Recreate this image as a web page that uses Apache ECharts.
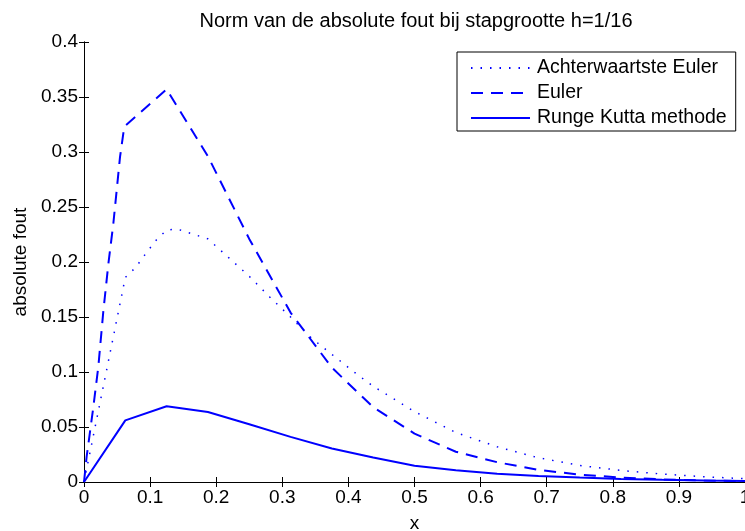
<!DOCTYPE html>
<html>
<head>
<meta charset="utf-8">
<script src="https://cdn.jsdelivr.net/npm/echarts@6/dist/echarts.min.js"></script>
<style>
  html, body { margin: 0; padding: 0; background: #fff; }
  #chart { width: 745px; height: 531px; }
</style>
</head>
<body>
<div id="chart"></div>
<script>
// x positions (stap h = 1/16, met extra punten waar de curve gebogen is)
const xBackward = [0, 0.0625, 0.0781, 0.0938, 0.1094, 0.125, 0.1406, 0.1563, 0.1719, 0.1875,
  0.2188, 0.25, 0.2813, 0.3125, 0.3438, 0.375, 0.4063, 0.4375, 0.5, 0.5625, 0.625,
  0.6875, 0.75, 0.8125, 0.875, 0.9375, 1];
const yBackward = [0, 0.186, 0.195, 0.208, 0.220, 0.229, 0.230, 0.227, 0.224, 0.221,
  0.204, 0.187, 0.168, 0.150, 0.131, 0.116, 0.101, 0.087, 0.064, 0.045, 0.032,
  0.022, 0.015, 0.0105, 0.0072, 0.0048, 0.003];

const xEuler = [0, 0.004, 0.0141, 0.0217, 0.0292, 0.0368, 0.0444, 0.0545, 0.0595, 0.0625,
  0.125, 0.1875, 0.25, 0.3125, 0.375, 0.4375, 0.5, 0.5625, 0.625, 0.6875, 0.75,
  0.8125, 0.875, 0.9375, 1];
const yEuler = [0, 0.023, 0.068, 0.105, 0.155, 0.198, 0.235, 0.2955, 0.317, 0.324,
  0.357, 0.296, 0.221, 0.154, 0.104, 0.068, 0.044, 0.0275, 0.018, 0.011, 0.0067,
  0.004, 0.0024, 0.0014, 0.0008];

const xRK = [0, 0.0625, 0.125, 0.1875, 0.25, 0.3125, 0.375, 0.4375, 0.5, 0.5625, 0.625,
  0.6875, 0.75, 0.8125, 0.875, 0.9375, 1];
const yRK = [0, 0.056, 0.0688, 0.0636, 0.0525, 0.041, 0.0305, 0.0222, 0.0148, 0.0106, 0.0076,
  0.0055, 0.004, 0.0028, 0.002, 0.0014, 0.001];

const seriesNames = ["Achterwaartste Euler", "Euler", "Runge Kutta methode"];

const FONT = "'Liberation Sans', Arial, Helvetica, sans-serif";
const BLUE = "#0000ff";

function pairs(xs, ys) {
  return xs.map((x, i) => [x, ys[i]]);
}

const chart = echarts.init(document.getElementById("chart"), null, { renderer: "canvas" });

const axisBase = {
  axisLine: { show: true, lineStyle: { color: "#000", width: 1 } },
  axisTick: { show: true, inside: true, length: 5, lineStyle: { color: "#000", width: 1 } },
  splitLine: { show: false },
};

const option = {
  animation: false,
  backgroundColor: "#fff",
  title: {
    text: "Norm van de absolute fout bij stapgrootte h=1/16",
    left: 411,
    top: 6,
    textAlign: "center",
    textStyle: { fontFamily: FONT, fontSize: 20, fontWeight: "normal", color: "#000" },
  },
  legend: {
    orient: "vertical",
    left: 457,
    top: 52,
    padding: [6, 9, 3, 13],
    itemGap: 5,
    itemWidth: 59,
    itemHeight: 14,
    backgroundColor: "#fff",
    borderColor: "#000",
    borderWidth: 1,
    borderRadius: 0,
    itemStyle: { opacity: 0 },
    textStyle: { fontFamily: FONT, fontSize: 19.5, color: "#000", padding: [0, 0, 0, 2] },
    data: seriesNames,
  },
  grid: { left: 84, right: 0, top: 42, bottom: 49, outerBoundsMode: "none" },
  xAxis: [
    Object.assign({}, axisBase, {
      type: "value",
      min: 0,
      max: 1,
      interval: 0.1,
      position: "bottom",
      name: "x",
      nameLocation: "middle",
      nameGap: 32,
      nameTextStyle: { fontFamily: FONT, fontSize: 19, color: "#000" },
      axisLabel: { fontFamily: FONT, fontSize: 19, color: "#000", margin: 6 },
    }),
    Object.assign({}, axisBase, {
      type: "value",
      min: 0,
      max: 1,
      interval: 0.1,
      position: "top",
      axisLabel: { show: false },
    }),
  ],
  yAxis: [
    Object.assign({}, axisBase, {
      type: "value",
      min: 0,
      max: 0.4,
      interval: 0.05,
      position: "left",
      name: "absolute fout",
      nameLocation: "middle",
      nameRotate: 90,
      nameGap: 53,
      nameTextStyle: { fontFamily: FONT, fontSize: 19, color: "#000" },
      axisLabel: { fontFamily: FONT, fontSize: 19, color: "#000", margin: 6 },
    }),
    Object.assign({}, axisBase, {
      type: "value",
      min: 0,
      max: 0.4,
      interval: 0.05,
      position: "right",
      axisLabel: { show: false },
    }),
  ],
  series: [
    {
      name: seriesNames[0],
      type: "line",
      showSymbol: false,
      symbol: "none",
      color: BLUE,
      lineStyle: { color: BLUE, width: 1.5, type: [1.5, 8] },
      data: pairs(xBackward, yBackward),
    },
    {
      name: seriesNames[1],
      type: "line",
      showSymbol: false,
      symbol: "none",
      color: BLUE,
      lineStyle: { color: BLUE, width: 2, type: [12, 8] },
      data: pairs(xEuler, yEuler),
    },
    {
      name: seriesNames[2],
      type: "line",
      showSymbol: false,
      symbol: "none",
      color: BLUE,
      lineStyle: { color: BLUE, width: 2, type: "solid" },
      data: pairs(xRK, yRK),
    },
  ],
};

chart.setOption(option);
</script>
</body>
</html>
